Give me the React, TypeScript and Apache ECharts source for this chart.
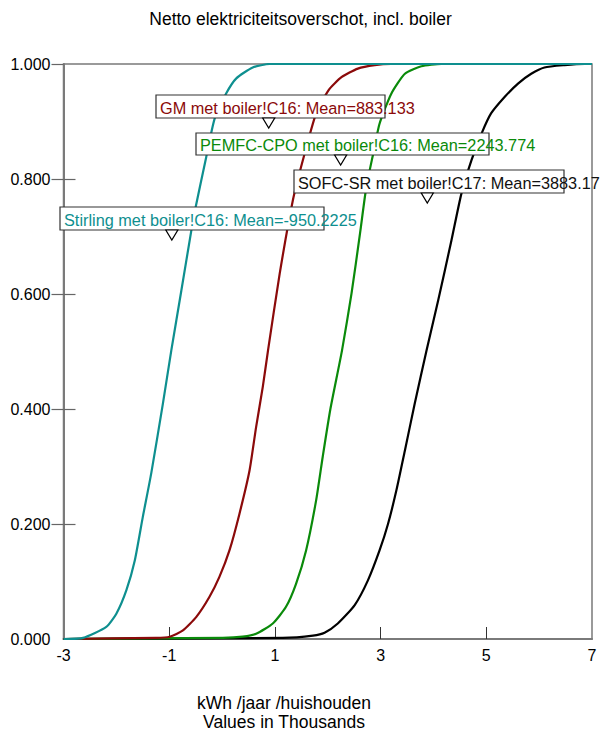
import React, { useEffect, useRef } from "react";
import * as echarts from "echarts";

// Cumulative distributions, x in thousands of kWh per household per year
const stirlingX = [-3, -2.63, -2.19, -2.0, -1.81, -1.65, -1.5, -1.34, -1.12, -0.96, -0.77, -0.58, -0.5, -0.3, -0.14, 0.08, 0.27, 0.58, 0.9, 7];
const stirlingF = [0, 0.002, 0.021, 0.044, 0.085, 0.137, 0.212, 0.288, 0.409, 0.502, 0.606, 0.711, 0.751, 0.838, 0.905, 0.949, 0.975, 0.994, 1.0, 1.0];

const gmX = [-3, -1.25, -0.99, -0.74, -0.49, -0.24, -0.05, 0.14, 0.33, 0.52, 0.645, 0.77, 0.87, 1.09, 1.34, 1.53, 1.78, 2.02, 2.26, 2.57, 2.89, 3.2, 7];
const gmF = [0, 0.002, 0.004, 0.015, 0.038, 0.073, 0.108, 0.154, 0.218, 0.293, 0.369, 0.438, 0.502, 0.635, 0.763, 0.833, 0.914, 0.955, 0.977, 0.992, 0.998, 1.0, 1.0];

const pemfcX = [-3, 0.015, 0.39, 0.645, 0.96, 1.21, 1.4, 1.59, 1.78, 1.905, 2.05, 2.27, 2.45, 2.61, 2.73, 2.86, 2.98, 3.2, 3.46, 3.77, 4.15, 7];
const pemfcF = [0, 0.002, 0.004, 0.009, 0.027, 0.056, 0.096, 0.154, 0.241, 0.317, 0.4, 0.502, 0.601, 0.705, 0.786, 0.844, 0.896, 0.948, 0.983, 0.996, 1.0, 1.0];

const sofcX = [-3, 1.15, 1.72, 1.94, 2.19, 2.51, 2.76, 2.98, 3.14, 3.3, 3.46, 3.645, 3.87, 4.09, 4.34, 4.53, 4.72, 4.91, 5.09, 5.35, 5.6, 5.85, 6.1, 6.48, 6.86, 7];
const sofcF = [0, 0.002, 0.006, 0.011, 0.027, 0.059, 0.102, 0.154, 0.2, 0.259, 0.328, 0.409, 0.502, 0.589, 0.693, 0.775, 0.833, 0.879, 0.914, 0.943, 0.966, 0.983, 0.994, 0.998, 1.0, 1.0];

const seriesNames = ["Stirling met boiler!C16", "GM met boiler!C16", "PEMFC-CPO met boiler!C16", "SOFC-SR met boiler!C17"];
const seriesMeans = ["-950.2225", "883.133", "2243.774", "3883.17"];
const seriesColors = ["#0e8f8f", "#8b0a0a", "#0a8a0a", "#000000"];

const xTickValues = [-3, -1, 1, 3, 5, 7];
const yTickValues = [0, 0.2, 0.4, 0.6, 0.8, 1.0];

const titleText = "Netto elektriciteitsoverschot, incl. boiler";
const axisTitleLines = ["kWh /jaar /huishouden", "Values in Thousands"];

const FONT = '"Liberation Sans", Arial, Helvetica, sans-serif';

// Annotation box placement (left, top, width, height) in pixels
const boxLayout = [
  { left: 60, top: 207, width: 264, height: 23 },
  { left: 156, top: 95, width: 229, height: 23 },
  { left: 196, top: 133, width: 293, height: 22 },
  { left: 294, top: 170, width: 270, height: 23 },
];

const zip = (xs: number[], ys: number[]) => xs.map((x, i) => [x, ys[i]]);

export default function App() {
  const ref = useRef<HTMLDivElement>(null);

  useEffect(() => {
    if (!ref.current) return;
    const chart = echarts.init(ref.current, null, { renderer: "svg" });
    const curves = [
      zip(stirlingX, stirlingF),
      zip(gmX, gmF),
      zip(pemfcX, pemfcF),
      zip(sofcX, sofcF),
    ];

    chart.setOption({
      animation: false,
      backgroundColor: "#ffffff",
      title: {
        text: titleText,
        left: "center",
        top: 10,
        padding: 0,
        textStyle: { fontFamily: FONT, fontSize: 17.5, fontWeight: "normal", color: "#000" },
      },
      grid: {
        left: 63.5,
        right: 9,
        top: 64,
        bottom: 92,
        show: true,
        borderColor: "#7a7a7a",
        borderWidth: 1.5,
        backgroundColor: "transparent",
      },
      xAxis: [
        {
          type: "value",
          min: -3,
          max: 7,
          axisLine: { show: true, onZero: false, lineStyle: { color: "#7a7a7a", width: 2 } },
          axisTick: {
            show: true,
            inside: true,
            length: 12,
            customValues: xTickValues.slice(1, -1),
            lineStyle: { color: "#333", width: 1 },
          },
          axisLabel: {
            customValues: xTickValues,
            formatter: (v: number) => String(v),
            margin: 8,
            fontFamily: FONT,
            fontSize: 16,
            color: "#000",
          },
          splitLine: { show: false },
        },
      ],
      yAxis: [
        {
          type: "value",
          min: 0,
          max: 1,
          position: "left",
          axisLine: { show: true, onZero: false, lineStyle: { color: "#7a7a7a", width: 2 } },
          axisTick: {
            show: true,
            inside: false,
            length: 12,
            customValues: yTickValues.slice(1),
            lineStyle: { color: "#666", width: 1.2 },
          },
          axisLabel: {
            customValues: yTickValues,
            formatter: (v: number) => v.toFixed(3),
            margin: 13,
            fontFamily: FONT,
            fontSize: 16,
            color: "#000",
          },
          splitLine: { show: false },
        },
        {
          type: "value",
          min: 0,
          max: 1,
          position: "left",
          axisLine: { show: false, onZero: false },
          axisTick: {
            show: true,
            inside: true,
            length: 12,
            customValues: yTickValues.slice(1, -1),
            lineStyle: { color: "#666", width: 1.2 },
          },
          axisLabel: { show: false },
          splitLine: { show: false },
        },
      ],
      series: curves.map((data, i) => ({
        name: seriesNames[i],
        type: "line",
        data,
        yAxisIndex: 0,
        showSymbol: false,
        smooth: 0.2,
        lineStyle: { color: seriesColors[i], width: 2.2, join: "round" },
        z: 2 + (3 - i),
      })),
    });

    const graphics: any[] = [];
    boxLayout.forEach((b, i) => {
      const meanPx = chart.convertToPixel({ xAxisIndex: 0 }, parseFloat(seriesMeans[i]) / 1000) as number;
      const bottom = b.top + b.height;
      graphics.push({
        type: "rect",
        shape: { x: b.left, y: b.top, width: b.width, height: b.height },
        style: { fill: "#ffffff", stroke: "#333", lineWidth: 1.2 },
        z: 100,
      });
      graphics.push({
        type: "text",
        x: b.left + 4,
        y: b.top + b.height / 2 + 1,
        style: {
          text: `${seriesNames[i]}: Mean=${seriesMeans[i]}`,
          font: `16.3px ${FONT}`,
          fill: seriesColors[i] === "#000000" ? "#111" : seriesColors[i],
          textVerticalAlign: "middle",
        },
        z: 101,
      });
      graphics.push({
        type: "polygon",
        shape: {
          points: [
            [meanPx - 6, bottom],
            [meanPx + 6, bottom],
            [meanPx, bottom + 10],
          ],
        },
        style: { fill: "#ffffff", stroke: "#000", lineWidth: 1.2 },
        z: 102,
      });
    });
    axisTitleLines.forEach((line, i) => {
      graphics.push({
        type: "text",
        x: 284,
        y: 703 + i * 19,
        style: {
          text: line,
          font: `17.5px ${FONT}`,
          fill: "#000",
          textAlign: "center",
          textVerticalAlign: "middle",
        },
      });
    });
    chart.setOption({ graphic: graphics });

    return () => chart.dispose();
  }, []);

  return (
    <div
      ref={ref}
      style={{ position: "fixed", left: 0, top: 0, width: 601, height: 731, background: "#fff" }}
    />
  );
}
